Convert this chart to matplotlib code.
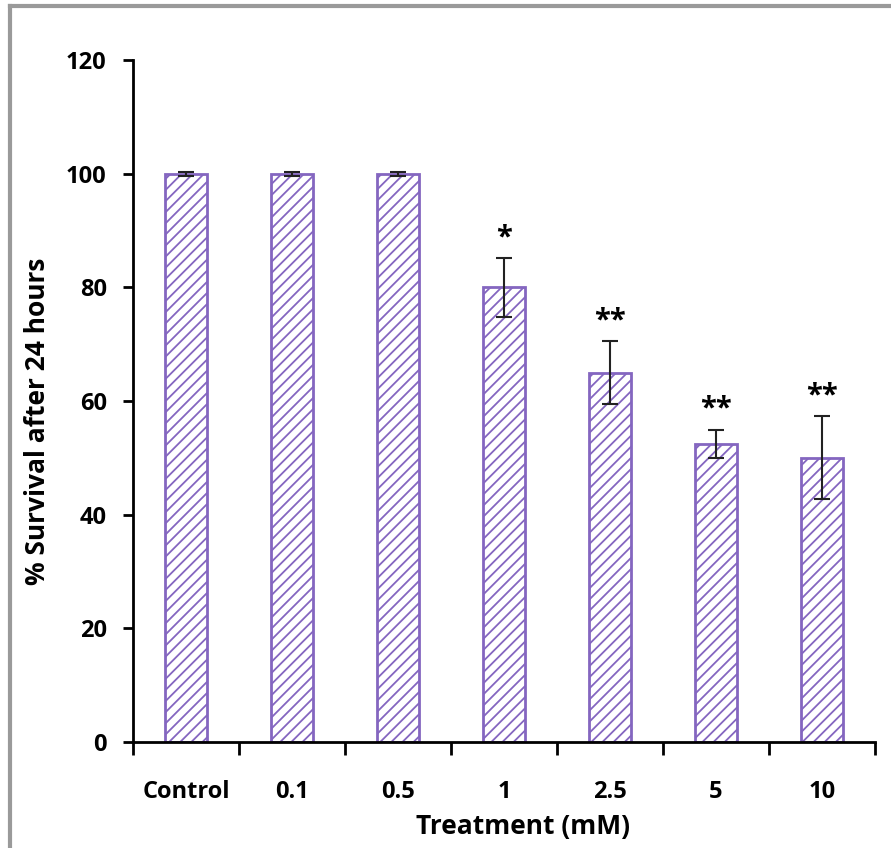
import numpy as np
import matplotlib.pyplot as plt
from matplotlib.lines import Line2D

# data
treatments = ["Control", "0.1", "0.5", "1", "2.5", "5", "10"]
survival = [100, 100, 100, 80, 65, 52.5, 50]
errors = [0.3, 0.3, 0.3, 5.2, 5.5, 2.5, 7.3]
stars = ["", "", "", "*", "**", "**", "**"]

purple = "#8466c0"

plt.rcParams['font.family'] = ['Open Sans', 'DejaVu Sans']
plt.rcParams['font.weight'] = 'bold'
plt.rcParams['hatch.color'] = purple
plt.rcParams['hatch.linewidth'] = 1.3

fig = plt.figure(figsize=(8.91, 8.48), dpi=100)
ax = fig.add_axes([0.1493, 0.125, 0.8328, 0.804])

x = np.arange(len(treatments))
ax.bar(x, survival, width=0.4, color="white", edgecolor=purple,
       linewidth=2, hatch="///", zorder=2)
ax.errorbar(x, survival, yerr=errors, fmt="none", ecolor="#222222",
            elinewidth=1.5, capsize=6, capthick=1.5, zorder=3)

for xi, val, err, s in zip(x, survival, errors, stars):
    if s:
        ax.text(xi, val + err + 1.0, s, ha="center", va="bottom",
                fontsize=21, fontweight="bold")

ax.set_xlim(-0.5, len(treatments) - 0.5)
ax.set_ylim(0, 120)
ax.set_yticks(range(0, 121, 20))
ax.set_xticks(x)
ax.set_xticklabels(treatments)
ax.set_xticks(np.arange(-0.5, len(treatments)), minor=True)
ax.tick_params(axis="x", which="major", length=0, pad=27, labelsize=17)
ax.tick_params(axis="x", which="minor", length=9, width=2, direction="out")
ax.tick_params(axis="y", length=7, width=2, direction="out", pad=12, labelsize=17)

for side in ["top", "right"]:
    ax.spines[side].set_visible(False)
for side in ["left", "bottom"]:
    ax.spines[side].set_linewidth(2)

ax.set_ylabel("% Survival after 24 hours", fontsize=19, fontweight="bold")
ax.set_xlabel("Treatment (mM)", fontsize=19, fontweight="bold")
ax.yaxis.set_label_coords(-0.11, 0.47)
ax.xaxis.set_label_coords(0.526, -0.104)

# grey frame around the picture (top and left edges)
fig.add_artist(Line2D([0.011, 1.0], [0.993, 0.993], color="#9a9a9a", lw=3,
                      transform=fig.transFigure))
fig.add_artist(Line2D([0.011, 0.011], [0.0, 0.993], color="#9a9a9a", lw=3,
                      transform=fig.transFigure))

fig.savefig("out.png", dpi=100)
